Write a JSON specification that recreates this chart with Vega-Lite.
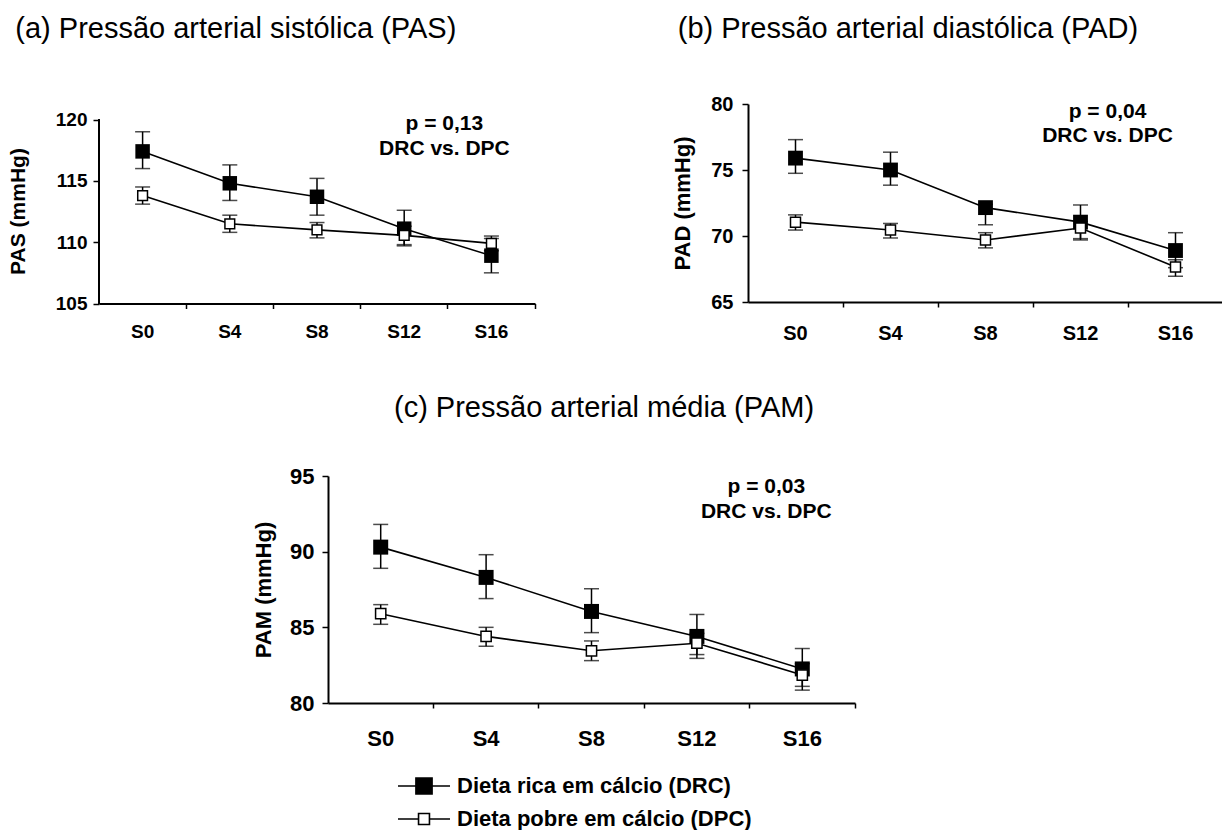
{
  "$schema": "https://vega.github.io/schema/vega-lite/v6.json",
  "background": "white",
  "padding": {"left": 7, "top": 15, "right": 0, "bottom": 0},
  "datasets": {
    "bp": [
      {"panel": "PAS", "week": "S0", "g": "DRC", "value": 117.4, "lo": 116.0, "hi": 119.0},
      {"panel": "PAS", "week": "S4", "g": "DRC", "value": 114.8, "lo": 113.4, "hi": 116.3},
      {"panel": "PAS", "week": "S8", "g": "DRC", "value": 113.7, "lo": 112.2, "hi": 115.2},
      {"panel": "PAS", "week": "S12", "g": "DRC", "value": 111.1, "lo": 109.7, "hi": 112.6},
      {"panel": "PAS", "week": "S16", "g": "DRC", "value": 108.9, "lo": 107.5, "hi": 110.3},
      {"panel": "PAS", "week": "S0", "g": "DPC", "value": 113.8, "lo": 113.1, "hi": 114.5},
      {"panel": "PAS", "week": "S4", "g": "DPC", "value": 111.5, "lo": 110.8, "hi": 112.2},
      {"panel": "PAS", "week": "S8", "g": "DPC", "value": 111.0, "lo": 110.35, "hi": 111.6},
      {"panel": "PAS", "week": "S12", "g": "DPC", "value": 110.55, "lo": 109.8, "hi": 111.3},
      {"panel": "PAS", "week": "S16", "g": "DPC", "value": 109.9, "lo": 109.3, "hi": 110.5},
      {"panel": "PAD", "week": "S0", "g": "DRC", "value": 75.9, "lo": 74.75, "hi": 77.3},
      {"panel": "PAD", "week": "S4", "g": "DRC", "value": 75.0, "lo": 73.85, "hi": 76.35},
      {"panel": "PAD", "week": "S8", "g": "DRC", "value": 72.15, "lo": 70.85, "hi": 72.4},
      {"panel": "PAD", "week": "S12", "g": "DRC", "value": 71.05, "lo": 69.8, "hi": 72.35},
      {"panel": "PAD", "week": "S16", "g": "DRC", "value": 68.9, "lo": 67.6, "hi": 70.25},
      {"panel": "PAD", "week": "S0", "g": "DPC", "value": 71.05, "lo": 70.45, "hi": 71.6},
      {"panel": "PAD", "week": "S4", "g": "DPC", "value": 70.45, "lo": 69.85, "hi": 70.95},
      {"panel": "PAD", "week": "S8", "g": "DPC", "value": 69.7, "lo": 69.1, "hi": 70.25},
      {"panel": "PAD", "week": "S12", "g": "DPC", "value": 70.6, "lo": 69.7, "hi": 71.1},
      {"panel": "PAD", "week": "S16", "g": "DPC", "value": 67.65, "lo": 66.95, "hi": 68.2},
      {"panel": "PAM", "week": "S0", "g": "DRC", "value": 90.3, "lo": 88.9, "hi": 91.8},
      {"panel": "PAM", "week": "S4", "g": "DRC", "value": 88.3, "lo": 86.9, "hi": 89.8},
      {"panel": "PAM", "week": "S8", "g": "DRC", "value": 86.05, "lo": 84.65, "hi": 87.55},
      {"panel": "PAM", "week": "S12", "g": "DRC", "value": 84.4, "lo": 82.95, "hi": 85.85},
      {"panel": "PAM", "week": "S16", "g": "DRC", "value": 82.25, "lo": 80.85, "hi": 83.6},
      {"panel": "PAM", "week": "S0", "g": "DPC", "value": 85.9, "lo": 85.2, "hi": 86.5},
      {"panel": "PAM", "week": "S4", "g": "DPC", "value": 84.4, "lo": 83.75, "hi": 85.0},
      {"panel": "PAM", "week": "S8", "g": "DPC", "value": 83.45, "lo": 82.8, "hi": 84.1},
      {"panel": "PAM", "week": "S12", "g": "DPC", "value": 83.95, "lo": 83.2, "hi": 84.6},
      {"panel": "PAM", "week": "S16", "g": "DPC", "value": 81.85, "lo": 81.1, "hi": 82.6}
    ],
    "notes": [
      {"panel": "PAS", "week": "S16", "y": 120.5, "label": "p = 0,13\nDRC vs. DPC"},
      {"panel": "PAD", "week": "S16", "y": 80.2, "label": "p = 0,04\nDRC vs. DPC"},
      {"panel": "PAM", "week": "S16", "y": 95.0, "label": "p = 0,03\nDRC vs. DPC"}
    ],
    "leg": [
      {"group": "Dieta rica em cálcio (DRC)", "week": "S0", "value": 90},
      {"group": "Dieta pobre em cálcio (DPC)", "week": "S0", "value": 86}
    ]
  },
  "vconcat": [
    {
      "hconcat": [
        {
          "title": {"text": "(a) Pressão arterial sistólica (PAS)", "anchor": "start", "frame": "bounds", "offset": 60, "dx": 8},
          "width": 436,
          "height": 199.5,
          "data": {"name": "bp"},
          "transform": [{"filter": "datum.panel == 'PAS'"}],
          "encoding": {
            "x": {"field": "week", "type": "ordinal", "sort": ["S0", "S4", "S8", "S12", "S16"],
              "scale": {"type": "band", "paddingInner": 0, "paddingOuter": 0},
              "axis": {"title": null, "bandPosition": 1, "labelAngle": 0, "labelPadding": 14, "labelFontSize": 19, "tickSize": 5}}
          },
          "layer": [
            {"mark": {"type": "rule", "color": "black", "strokeWidth": 1.5},
             "encoding": {"y": {"field": "lo", "type": "quantitative", "title": "PAS (mmHg)", "scale": {"domain": [105, 121.264], "nice": false},
               "axis": {"values": [105, 110, 115, 120], "domain": false, "labelFontSize": 19, "labelPadding": 6, "titleFontSize": 21, "titlePadding": 27, "titleY": 107}}, "y2": {"field": "hi"}}},
            {"mark": {"type": "rule", "color": "black", "strokeWidth": 2},
             "encoding": {"x": {"datum": "S0", "bandPosition": 0},
               "y": {"datum": 105, "type": "quantitative", "title": "PAS (mmHg)", "scale": {"domain": [105, 121.264], "nice": false}}, "y2": {"datum": 120}}},
            {"mark": {"type": "tick", "color": "black", "size": 15, "thickness": 1.5},
             "encoding": {"y": {"field": "lo", "type": "quantitative", "title": "PAS (mmHg)", "scale": {"domain": [105, 121.264], "nice": false}}}},
            {"mark": {"type": "tick", "color": "black", "size": 15, "thickness": 1.5},
             "encoding": {"y": {"field": "hi", "type": "quantitative", "title": "PAS (mmHg)", "scale": {"domain": [105, 121.264], "nice": false}}}},
            {"mark": {"type": "line", "color": "black", "strokeWidth": 1.6},
             "encoding": {"y": {"field": "value", "type": "quantitative", "title": "PAS (mmHg)", "scale": {"domain": [105, 121.264], "nice": false}}, "detail": {"field": "g"}}},
            {"transform": [{"filter": "datum.g == 'DRC'"}],
             "mark": {"type": "point", "shape": "square", "filled": true, "color": "black", "size": 210, "opacity": 1},
             "encoding": {"y": {"field": "value", "type": "quantitative", "title": "PAS (mmHg)", "scale": {"domain": [105, 121.264], "nice": false}}}},
            {"transform": [{"filter": "datum.g == 'DPC'"}],
             "mark": {"type": "point", "shape": "square", "filled": true, "fill": "white", "stroke": "black", "strokeWidth": 1.5, "size": 95, "opacity": 1},
             "encoding": {"y": {"field": "value", "type": "quantitative", "title": "PAS (mmHg)", "scale": {"domain": [105, 121.264], "nice": false}}}},
            {"data": {"name": "notes"}, "transform": [{"filter": "datum.panel == 'PAS'"}],
             "mark": {"type": "text", "fontWeight": "bold", "fontSize": 21, "lineBreak": "\n", "lineHeight": 25, "align": "center", "baseline": "top", "dx": -47, "color": "black"},
             "encoding": {"y": {"field": "y", "type": "quantitative", "title": "PAS (mmHg)", "scale": {"domain": [105, 121.264], "nice": false}}, "text": {"field": "label"}}}
          ]
        },
        {
          "title": {"text": "(b) Pressão arterial diastólica (PAD)", "anchor": "start", "frame": "bounds", "offset": 50, "dx": 6},
          "width": 475,
          "height": 198,
          "data": {"name": "bp"},
          "transform": [{"filter": "datum.panel == 'PAD'"}],
          "encoding": {
            "x": {"field": "week", "type": "ordinal", "sort": ["S0", "S4", "S8", "S12", "S16"],
              "scale": {"type": "band", "paddingInner": 0, "paddingOuter": 0},
              "axis": {"title": null, "bandPosition": 1, "labelAngle": 0, "labelPadding": 16, "labelFontSize": 20, "tickSize": 5}}
          },
          "layer": [
            {"mark": {"type": "rule", "color": "black", "strokeWidth": 1.5},
             "encoding": {"y": {"field": "lo", "type": "quantitative", "title": "PAD (mmHg)", "scale": {"domain": [65, 80], "nice": false},
               "axis": {"values": [65, 70, 75, 80], "labelFontSize": 20, "labelPadding": 9, "titleFontSize": 22, "titlePadding": 16}}, "y2": {"field": "hi"}}},
            {"mark": {"type": "tick", "color": "black", "size": 15, "thickness": 1.5},
             "encoding": {"y": {"field": "lo", "type": "quantitative", "title": "PAD (mmHg)", "scale": {"domain": [65, 80], "nice": false}}}},
            {"mark": {"type": "tick", "color": "black", "size": 15, "thickness": 1.5},
             "encoding": {"y": {"field": "hi", "type": "quantitative", "title": "PAD (mmHg)", "scale": {"domain": [65, 80], "nice": false}}}},
            {"mark": {"type": "line", "color": "black", "strokeWidth": 1.6},
             "encoding": {"y": {"field": "value", "type": "quantitative", "title": "PAD (mmHg)", "scale": {"domain": [65, 80], "nice": false}}, "detail": {"field": "g"}}},
            {"transform": [{"filter": "datum.g == 'DRC'"}],
             "mark": {"type": "point", "shape": "square", "filled": true, "color": "black", "size": 220, "opacity": 1},
             "encoding": {"y": {"field": "value", "type": "quantitative", "title": "PAD (mmHg)", "scale": {"domain": [65, 80], "nice": false}}}},
            {"transform": [{"filter": "datum.g == 'DPC'"}],
             "mark": {"type": "point", "shape": "square", "filled": true, "fill": "white", "stroke": "black", "strokeWidth": 1.5, "size": 100, "opacity": 1},
             "encoding": {"y": {"field": "value", "type": "quantitative", "title": "PAD (mmHg)", "scale": {"domain": [65, 80], "nice": false}}}},
            {"data": {"name": "notes"}, "transform": [{"filter": "datum.panel == 'PAD'"}],
             "mark": {"type": "text", "fontWeight": "bold", "fontSize": 21, "lineBreak": "\n", "lineHeight": 24, "align": "center", "baseline": "top", "dx": -68, "color": "black"},
             "encoding": {"y": {"field": "y", "type": "quantitative", "title": "PAD (mmHg)", "scale": {"domain": [65, 80], "nice": false}}, "text": {"field": "label"}}}
          ]
        }
      ],
      "spacing": 135
    },
    {
      "hconcat": [
        {"data": {"values": []}, "mark": "point", "width": 153, "height": 10},
        {
          "title": {"text": "(c) Pressão arterial média (PAM)", "anchor": "start", "frame": "group", "offset": 42, "dx": 66},
          "width": 527,
          "height": 227,
          "data": {"name": "bp"},
          "transform": [{"filter": "datum.panel == 'PAM'"}],
          "encoding": {
            "x": {"field": "week", "type": "ordinal", "sort": ["S0", "S4", "S8", "S12", "S16"],
              "scale": {"type": "band", "paddingInner": 0, "paddingOuter": 0},
              "axis": {"title": null, "bandPosition": 1, "labelAngle": 0, "labelPadding": 20, "labelFontSize": 22, "tickSize": 5}}
          },
          "layer": [
            {"mark": {"type": "rule", "color": "black", "strokeWidth": 1.5},
             "encoding": {"y": {"field": "lo", "type": "quantitative", "title": "PAM (mmHg)", "scale": {"domain": [80, 95], "nice": false},
               "axis": {"values": [80, 85, 90, 95], "labelFontSize": 22, "labelPadding": 8, "titleFontSize": 22, "titlePadding": 14}}, "y2": {"field": "hi"}}},
            {"mark": {"type": "tick", "color": "black", "size": 15, "thickness": 1.5},
             "encoding": {"y": {"field": "lo", "type": "quantitative", "title": "PAM (mmHg)", "scale": {"domain": [80, 95], "nice": false}}}},
            {"mark": {"type": "tick", "color": "black", "size": 15, "thickness": 1.5},
             "encoding": {"y": {"field": "hi", "type": "quantitative", "title": "PAM (mmHg)", "scale": {"domain": [80, 95], "nice": false}}}},
            {"mark": {"type": "line", "color": "black", "strokeWidth": 1.6},
             "encoding": {"y": {"field": "value", "type": "quantitative", "title": "PAM (mmHg)", "scale": {"domain": [80, 95], "nice": false}}, "detail": {"field": "g"}}},
            {"transform": [{"filter": "datum.g == 'DRC'"}],
             "mark": {"type": "point", "shape": "square", "filled": true, "color": "black", "size": 225, "opacity": 1},
             "encoding": {"y": {"field": "value", "type": "quantitative", "title": "PAM (mmHg)", "scale": {"domain": [80, 95], "nice": false}}}},
            {"transform": [{"filter": "datum.g == 'DPC'"}],
             "mark": {"type": "point", "shape": "square", "filled": true, "fill": "white", "stroke": "black", "strokeWidth": 1.5, "size": 105, "opacity": 1},
             "encoding": {"y": {"field": "value", "type": "quantitative", "title": "PAM (mmHg)", "scale": {"domain": [80, 95], "nice": false}}}},
            {"data": {"name": "notes"}, "transform": [{"filter": "datum.panel == 'PAM'"}],
             "mark": {"type": "text", "fontWeight": "bold", "fontSize": 21, "lineBreak": "\n", "lineHeight": 25, "align": "center", "baseline": "top", "dx": -36, "color": "black"},
             "encoding": {"y": {"field": "y", "type": "quantitative", "title": "PAM (mmHg)", "scale": {"domain": [80, 95], "nice": false}}, "text": {"field": "label"}}},
            {"data": {"name": "leg"},
             "mark": {"type": "point", "filled": true, "opacity": 0},
             "encoding": {
               "y": {"field": "value", "type": "quantitative", "title": "PAM (mmHg)", "scale": {"domain": [80, 95], "nice": false}},
               "fill": {"field": "group", "type": "nominal",
                 "scale": {"domain": ["Dieta rica em cálcio (DRC)", "Dieta pobre em cálcio (DPC)"], "range": ["black", "white"]},
                 "legend": {"title": null, "orient": "none", "legendX": 82, "legendY": 296,
                   "symbolOpacity": 1, "symbolStrokeColor": "black", "symbolStrokeWidth": 1.6, "symbolSize": 676,
                   "labelFont": "Liberation Sans", "labelFontSize": 22, "labelFontWeight": "bold", "labelColor": "black", "labelLimit": 500,
                   "rowPadding": 7, "labelOffset": 19, "padding": 0, "offset": 0,
                   "encode": {"symbols": {"update": {"opacity": {"value": 1}, "stroke": {"value": "black"}, "strokeWidth": {"value": 1.6}}}}}},
               "shape": {"field": "group", "type": "nominal",
                 "scale": {"domain": ["Dieta rica em cálcio (DRC)", "Dieta pobre em cálcio (DPC)"],
                   "range": ["M-2,0H-0.62M0.62,0H2M-0.62,-0.62H0.62V0.62H-0.62Z", "M-2,0H-0.42M0.42,0H2M-0.42,-0.42H0.42V0.42H-0.42Z"]}}
             }}
          ]
        }
      ],
      "spacing": 0,
      "resolve": {"legend": {"fill": "independent", "shape": "independent"}}
    }
  ],
  "spacing": 51,
  "resolve": {"legend": {"fill": "independent", "shape": "independent"}},
  "config": {
    "view": {"stroke": null},
    "font": "Liberation Sans",
    "axis": {"domainColor": "black", "domainWidth": 2, "tickColor": "black", "tickWidth": 1.5, "tickSize": 6,
      "labelColor": "black", "labelFont": "Liberation Sans", "labelFontWeight": "bold", "labelOverlap": false,
      "titleColor": "black", "titleFont": "Liberation Sans", "titleFontWeight": "bold", "grid": false},
    "title": {"font": "Liberation Sans", "fontSize": 29, "fontWeight": "normal", "color": "black"}
  }
}
